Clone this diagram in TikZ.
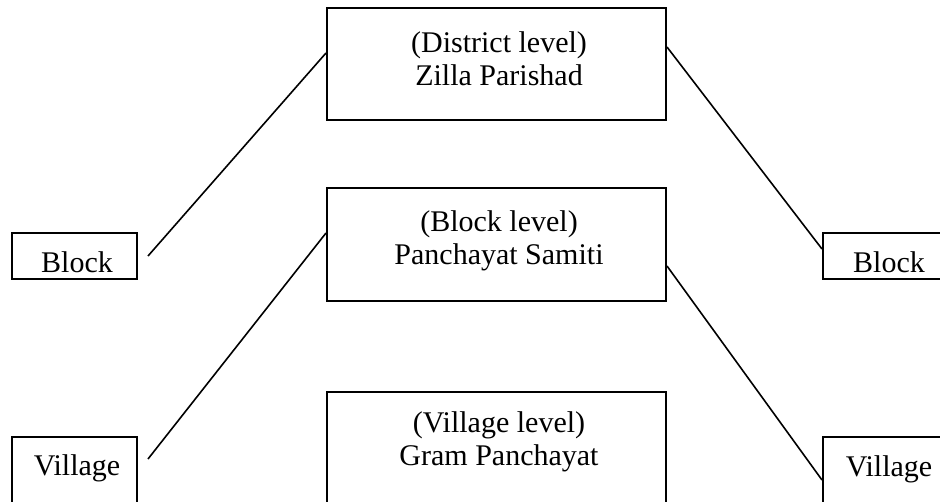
\documentclass[tikz,border=0pt]{standalone}
\usepackage{fontspec}
\setmainfont{Liberation Serif}
\usepackage{tikz}
\newcommand{\bigtxt}{\fontsize{30pt}{33pt}\selectfont}

\begin{document}
\begin{tikzpicture}[x=1pt,y=-1pt,
    lvl/.style={draw,line width=2pt,minimum width=339pt,minimum height=112pt,inner sep=0pt},
    side/.style={draw,line width=2pt,minimum width=125pt,minimum height=46pt,inner sep=0pt},
    txt/.style={font=\bigtxt,align=center,anchor=base,inner sep=0pt},
    link/.style={line width=1.6pt}]

    \clip (0,0) rectangle (940,501);

    % levels in the middle
    \node[lvl] (zp) at (496.5,64) {};
    \node[lvl,minimum height=113pt] (ps) at (496.5,244.5) {};
    \node[lvl] (gp) at (496.5,448) {};

    % base is on the last line here
    \node[txt] (zptxt) at (499,85) {(District level)\\Zilla Parishad};
    \node[txt] (pstxt) at (499,264) {(Block level)\\Panchayat Samiti};
    \node[txt] (gptxt) at (499,465) {(Village level)\\Gram Panchayat};

    % boxes on the sides
    \node[side] (lb) at (74.5,256) {};
    \node[side,minimum height=70pt] (lv) at (74.5,472) {};
    \node[side] (rb) at (885.5,256) {};
    \node[side,minimum height=70pt] (rv) at (885.5,472) {};

    \node[txt] (lbtxt) at (77,272) {Block};
    \node[txt] (lvtxt) at (77,475) {Village};
    \node[txt] (rbtxt) at (889,272) {Block};
    \node[txt] (rvtxt) at (889,476) {Village};

    % links
    \draw[link] ([xshift=10pt]lb.east) -- ([yshift=11pt]zp.west);
    \draw[link] ([xshift=10pt,yshift=13pt]lv.east) -- ([yshift=11.5pt]ps.west);
    \draw[link] ([yshift=17pt]zp.east) -- ([yshift=7pt]rb.west);
    \draw[link] ([yshift=-21.5pt]ps.east) -- ([yshift=-8pt]rv.west);

\end{tikzpicture}
\end{document}
